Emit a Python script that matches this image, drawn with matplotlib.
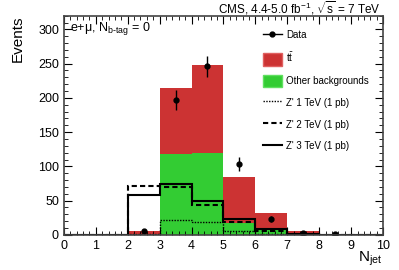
import numpy as np
import matplotlib
matplotlib.use('Agg')
import matplotlib.pyplot as plt
from matplotlib.lines import Line2D
from matplotlib.patches import Patch
from matplotlib.ticker import MultipleLocator

plt.rcParams['font.family'] = ['Liberation Sans', 'DejaVu Sans']
plt.rcParams['mathtext.fontset'] = 'custom'
plt.rcParams['mathtext.rm'] = 'Liberation Sans'
plt.rcParams['mathtext.it'] = 'Liberation Sans'

edges = np.arange(0, 11)
centers = edges[:-1] + 0.5

other_bkg = [0, 0, 0, 118, 120, 17, 8, 1.5, 0.5, 0]
ttbar = [0, 0, 6, 96, 128, 68, 24, 3.5, 0.5, 0]
data = [0, 0, 5, 197, 246, 104, 23, 3, 1, 0]
zp1 = [0, 0, 1, 22, 18.5, 6, 1.5, 0.3, 0, 0]
zp2 = [0, 0, 71, 70, 43, 18.5, 6, 1.5, 0.3, 0]
zp3 = [0, 0, 58, 75, 49, 22.5, 8, 2, 0.5, 0]

red = '#cc3333'
green = '#33cc33'

fig = plt.figure(figsize=(3.99, 2.70), dpi=100)
ax = fig.add_axes([0.160, 0.130, 0.800, 0.812])

# stacked backgrounds
ax.bar(centers, other_bkg, width=1, color=green, linewidth=0)
ax.bar(centers, ttbar, width=1, bottom=other_bkg, color=red, linewidth=0)

# signal lines
def step(vals, **kw):
    ax.stairs(vals, edges, baseline=None, color='black', **kw)

step(zp1, linestyle=(0, (1, 1)), linewidth=1.0)
step(zp2, linestyle=(0, (2.5, 1.5)), linewidth=1.5)
step(zp3, linestyle='-', linewidth=1.5)

# data
d = np.array(data, dtype=float)
m = d > 0
ax.errorbar(centers[m], d[m], yerr=np.sqrt(d[m]), fmt='o', color='black',
            markersize=3.5, elinewidth=1, capsize=0)

ax.set_xlim(0, 10)
ax.set_ylim(0, 320)
ax.xaxis.set_major_locator(MultipleLocator(1))
ax.xaxis.set_minor_locator(MultipleLocator(0.2))
ax.yaxis.set_major_locator(MultipleLocator(50))
ax.yaxis.set_minor_locator(MultipleLocator(10))
ax.tick_params(which='both', direction='in', top=True, right=True, labelsize=9)
ax.tick_params(which='major', length=6)
ax.tick_params(which='minor', length=3)
for s in ax.spines.values():
    s.set_linewidth(1.2)
    s.set_color('#444444')

ax.set_ylabel('Events', fontsize=11, loc='top')
ax.yaxis.set_label_coords(-0.123, 1.0)
fig.text(0.958, 0.03, r'N$_{\rm jet}$', ha='right', va='baseline', fontsize=11)

fig.text(0.955, 0.95, r'CMS, 4.4-5.0 fb$^{-1}$, $\sqrt{s}$ = 7 TeV',
         ha='right', va='baseline', fontsize=8.5)
ax.text(0.02, 0.94, r'e+$\mu$, N$_{\rm b\text{-}tag}$ = 0', transform=ax.transAxes,
        fontsize=9, va='center', ha='left')

handles = [
    Line2D([0], [0], color='black', marker='o', markersize=3.5, linewidth=1),
    Patch(facecolor=red, edgecolor='#e06060'),
    Patch(facecolor=green, edgecolor='#60e060'),
    Line2D([0], [0], color='black', linestyle=(0, (1, 1)), linewidth=1.0),
    Line2D([0], [0], color='black', linestyle=(0, (2.5, 1.5)), linewidth=1.5),
    Line2D([0], [0], color='black', linewidth=1.5),
]
labels = ['Data', r't$\bar{\rm t}$', 'Other backgrounds',
          "Z' 1 TeV (1 pb)", "Z' 2 TeV (1 pb)", "Z' 3 TeV (1 pb)"]
ax.legend(handles, labels, loc='upper left', bbox_to_anchor=(0.595, 0.98),
          frameon=False, fontsize=7, labelspacing=0.95, handlelength=2.0,
          handleheight=1.6, handletextpad=0.4)

fig.savefig('out.png', dpi=100)
